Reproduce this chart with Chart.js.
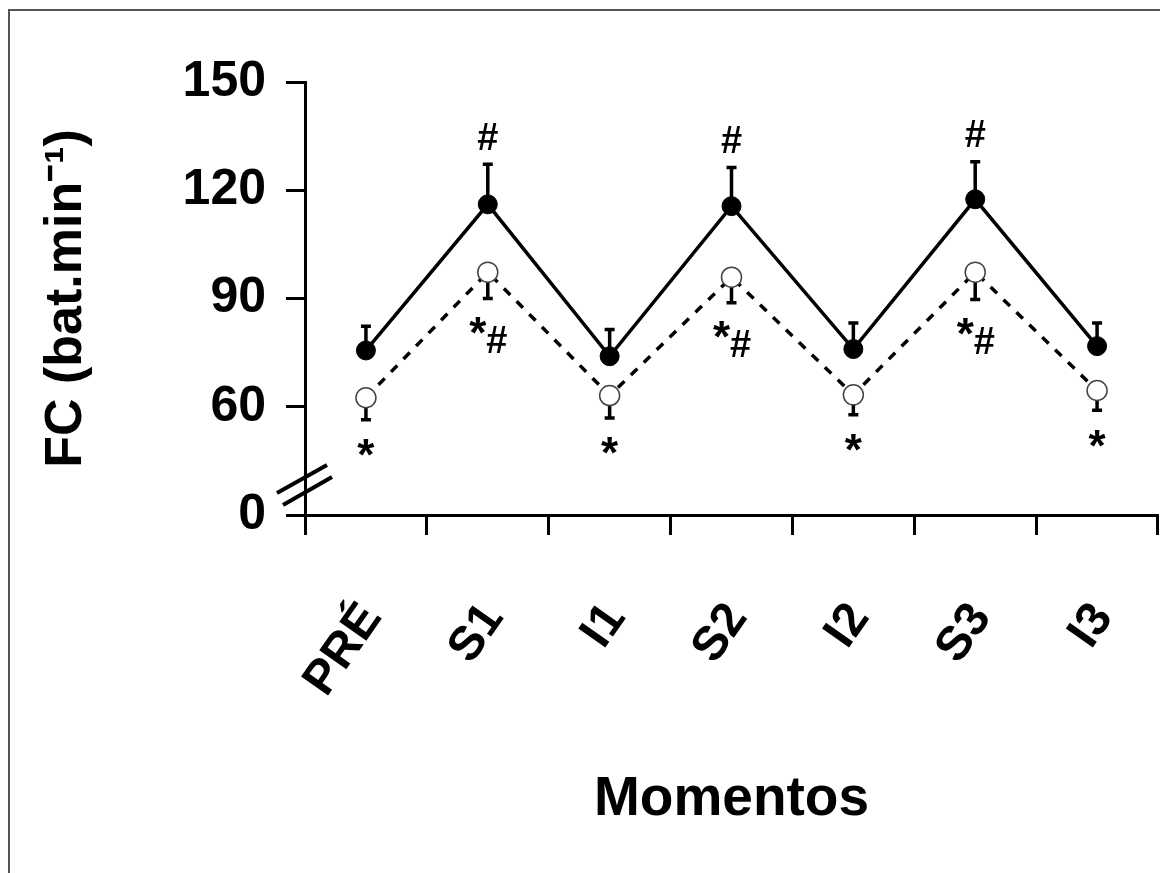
<!DOCTYPE html>
<html>
<head>
<meta charset="utf-8">
<script src="https://cdn.jsdelivr.net/npm/chart.js@4.4.0/dist/chart.umd.min.js"></script>
<style>
    html, body { margin: 0; padding: 0; background: #fff; }
    #wrap { width: 1160px; height: 873px; }
</style>
</head>
<body>
<div id="wrap"><canvas id="chart" width="1160" height="873"></canvas></div>
<script>
// momentos (eixo x)
const momentos = ['PRÉ', 'S1', 'I1', 'S2', 'I2', 'S3', 'I3'];

// FC media e desvio padrao, grupo simbolo cheio (linha continua)
const fcCheio = [75.6, 116.1, 74.0, 115.6, 76.0, 117.5, 76.8];
const dpCheio = [6.7, 11.1, 7.4, 10.7, 7.2, 10.4, 6.4];

// grupo simbolo vazio (linha tracejada)
const fcVazio = [62.5, 97.3, 63.1, 95.9, 63.3, 97.3, 64.5];
const dpVazio = [6.1, 7.3, 6.2, 7.1, 5.5, 7.6, 5.5];

// marcas de significancia
const marcasCheio = ['', '#', '', '#', '', '#', ''];
const marcasVazio = ['*', '*#', '*', '*#', '*', '*#', '*'];

// eixo y com quebra: o valor 30 aparece como 0
const yTicks = [30, 60, 90, 120, 150];
const yTickLabels = ['0', '60', '90', '120', '150'];

const FONT = '"Liberation Sans", Arial, sans-serif';

const frame = {
    id: 'frame',
    beforeDraw: chart => {
        const ctx = chart.ctx;
        ctx.save();
        ctx.fillStyle = '#fff';
        ctx.fillRect(0, 0, chart.width, chart.height);
        ctx.strokeStyle = '#555';
        ctx.lineWidth = 2;
        ctx.beginPath();
        ctx.moveTo(9, chart.height);
        ctx.lineTo(9, 10);
        ctx.lineTo(chart.width, 10);
        ctx.stroke();
        ctx.restore();
    },
};

const errorBars = {
    id: 'errorBars',
    beforeDatasetsDraw: chart => {
        const ctx = chart.ctx;
        const y = chart.scales.y;
        const sets = [[0, fcCheio, dpCheio, 1], [1, fcVazio, dpVazio, -1]];

        ctx.save();
        ctx.strokeStyle = '#000';
        ctx.lineWidth = 3.5;
        sets.forEach(([idx, means, sds, dir]) => {
            const meta = chart.getDatasetMeta(idx);
            meta.data.forEach((pt, i) => {
                const y0 = y.getPixelForValue(means[i]);
                const y1 = y.getPixelForValue(means[i] + dir * sds[i]);
                ctx.beginPath();
                ctx.moveTo(pt.x, y0);
                ctx.lineTo(pt.x, y1);
                ctx.moveTo(pt.x - 5, y1);
                ctx.lineTo(pt.x + 5, y1);
                ctx.stroke();
            });
        });
        ctx.restore();
    },
};

function centered(ctx, txt, x, cy) {
    const m = ctx.measureText(txt);
    ctx.fillText(txt, x, cy + (m.actualBoundingBoxAscent - m.actualBoundingBoxDescent) / 2);
}

const marks = {
    id: 'marks',
    afterDatasetsDraw: chart => {
        const ctx = chart.ctx;
        const y = chart.scales.y;
        const a = chart.chartArea;

        ctx.save();
        ctx.fillStyle = '#000';
        ctx.textAlign = 'center';
        ctx.textBaseline = 'alphabetic';

        chart.getDatasetMeta(0).data.forEach((pt, i) => {
            if (!marcasCheio[i]) return;
            ctx.font = 'bold 38px ' + FONT;
            centered(ctx, marcasCheio[i], pt.x, y.getPixelForValue(fcCheio[i] + dpCheio[i]) - 28);
        });

        chart.getDatasetMeta(1).data.forEach((pt, i) => {
            const base = y.getPixelForValue(fcVazio[i] - dpVazio[i]);
            if (marcasVazio[i] === '*') {
                ctx.font = 'bold 44px ' + FONT;
                centered(ctx, '*', pt.x, base + 28);
            } else if (marcasVazio[i] === '*#') {
                ctx.font = 'bold 44px ' + FONT;
                centered(ctx, '*', pt.x - 10, base + 27);
                ctx.font = 'bold 38px ' + FONT;
                centered(ctx, '#', pt.x + 9, base + 41);
            }
        });

        // quebra do eixo y
        ctx.strokeStyle = '#000';
        ctx.lineWidth = 4;
        ctx.beginPath();
        ctx.moveTo(a.left - 28, a.bottom - 22);
        ctx.lineTo(a.left + 22, a.bottom - 50);
        ctx.moveTo(a.left - 22, a.bottom - 10);
        ctx.lineTo(a.left + 27, a.bottom - 38);
        ctx.stroke();
        ctx.restore();
    },
};

new Chart(document.getElementById('chart').getContext('2d'), {
    type: 'line',
    data: {
        labels: momentos,
        datasets: [
            {
                label: 'cheio',
                data: fcCheio,
                borderColor: '#000',
                borderWidth: 3.5,
                pointRadius: 9.5,
                pointBackgroundColor: '#000',
                pointBorderColor: '#000',
                pointBorderWidth: 1,
                tension: 0,
                clip: false,
            },
            {
                label: 'vazio',
                data: fcVazio,
                borderColor: '#000',
                borderWidth: 3.5,
                borderDash: [9, 9],
                pointRadius: 10,
                pointBackgroundColor: '#fff',
                pointBorderColor: '#444',
                pointBorderWidth: 1.5,
                tension: 0,
                clip: false,
            },
        ],
    },
    options: {
        responsive: false,
        animation: false,
        devicePixelRatio: 1,
        layout: {
            autoPadding: false,
            padding: { left: 35, right: 2, top: 82, bottom: 40 },
        },
        plugins: {
            legend: { display: false },
            tooltip: { enabled: false },
        },
        scales: {
            x: {
                type: 'category',
                offset: true,
                afterFit: scale => {
                    scale.height = 873 - 40 - 515;
                    scale.paddingLeft = 0;
                    scale.paddingRight = 0;
                },
                grid: {
                    offset: true,
                    drawOnChartArea: false,
                    tickLength: 20,
                    tickWidth: 3,
                    tickColor: '#000',
                },
                border: { color: '#000', width: 3 },
                ticks: {
                    autoSkip: false,
                    minRotation: 55,
                    maxRotation: 55,
                    padding: 58,
                    labelOffset: 6,
                    color: '#000',
                    font: { family: FONT, size: 48, weight: 'bold' },
                },
                title: {
                    display: true,
                    text: 'Momentos',
                    color: '#000',
                    padding: 0,
                    font: { family: FONT, size: 55, weight: 'bold' },
                },
            },
            y: {
                min: 30,
                max: 150,
                afterFit: scale => {
                    scale.width = 305 - 35;
                },
                afterBuildTicks: scale => {
                    scale.ticks = yTicks.map(v => ({ value: v }));
                },
                grid: {
                    drawOnChartArea: false,
                    tickLength: 19,
                    tickWidth: 3,
                    tickColor: '#000',
                },
                border: { color: '#000', width: 3 },
                ticks: {
                    padding: 20,
                    color: '#000',
                    font: { family: FONT, size: 50, weight: 'bold' },
                    callback: v => yTickLabels[yTicks.indexOf(v)],
                },
                title: {
                    display: true,
                    text: 'FC (bat.min⁻¹)',
                    color: '#000',
                    padding: 0,
                    font: { family: FONT, size: 52, weight: 'bold' },
                },
            },
        },
    },
    plugins: [frame, errorBars, marks],
});
</script>
</body>
</html>
